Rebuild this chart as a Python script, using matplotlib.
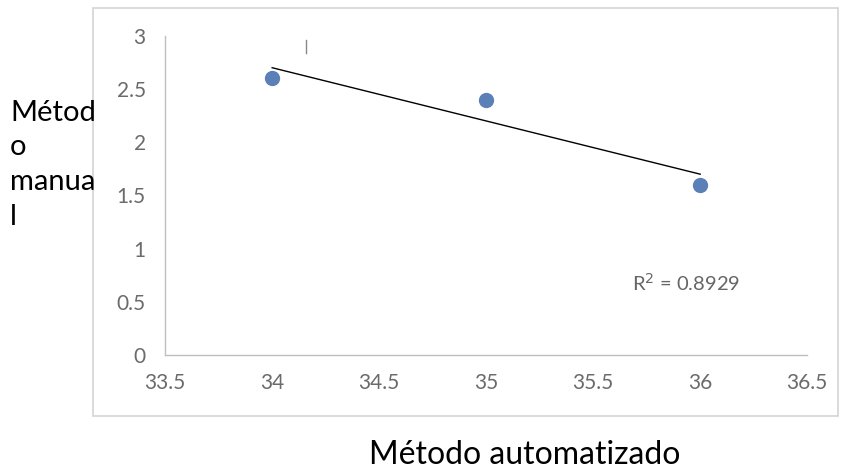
import matplotlib
matplotlib.use("Agg")
import matplotlib.pyplot as plt
from matplotlib.patches import Rectangle
import numpy as np

# data
automatizado = [34, 35, 36]
manual = [2.6, 2.4, 1.6]
x_ticks = [33.5, 34, 34.5, 35, 35.5, 36, 36.5]
y_ticks = [0, 0.5, 1, 1.5, 2, 2.5, 3]

plt.rcParams["font.family"] = ["Lato", "DejaVu Sans"]

fig = plt.figure(figsize=(8.47, 4.71), dpi=100)
ax = fig.add_axes([0.195, 0.246, 0.758, 0.678])

# outer chart border
fig.patches.append(Rectangle((0.110, 0.117), 0.879, 0.866, transform=fig.transFigure,
                             fill=False, edgecolor="#d4d4d4", linewidth=1.2))

ax.scatter(automatizado, manual, s=100, color="#5b80b8", zorder=3)

# linear trend line
slope, intercept = np.polyfit(automatizado, manual, 1)
xs = np.array([automatizado[0], automatizado[-1]])
ax.plot(xs, slope * xs + intercept, color="black", linewidth=1.0, zorder=2)

pred = slope * np.array(automatizado) + intercept
ss_res = np.sum((np.array(manual) - pred) ** 2)
ss_tot = np.sum((np.array(manual) - np.mean(manual)) ** 2)
r2 = 1 - ss_res / ss_tot
ax.text(35.68, 0.68, "R$^2$ = %.4f" % r2, fontsize=14.5, color="#666666", va="center")

# small stray mark near the top
ax.plot([34.16, 34.16], [2.84, 2.96], color="#888888", linewidth=1.0)

ax.set_xlim(33.5, 36.5)
ax.set_ylim(0, 3)
ax.set_xticks(x_ticks)
ax.set_xticklabels([f"{t:g}" for t in x_ticks])
ax.set_yticks(y_ticks)
ax.set_yticklabels([f"{t:g}" for t in y_ticks])
ax.tick_params(axis="both", length=0, labelsize=15, labelcolor="#6b6b6b")
ax.tick_params(axis="x", pad=13)
ax.tick_params(axis="y", pad=14)

for side in ["top", "right"]:
    ax.spines[side].set_visible(False)
for side in ["left", "bottom"]:
    ax.spines[side].set_color("#bfbfbf")
    ax.spines[side].set_linewidth(1.0)

fig.text(0.012, 0.65, "Métod\no\nmanua\nl", fontsize=21, color="black",
         ha="left", va="center", linespacing=1.42)
fig.text(0.62, 0.034, "Método automatizado", fontsize=23, color="black",
         ha="center", va="center")

fig.savefig("out.png", dpi=100)
